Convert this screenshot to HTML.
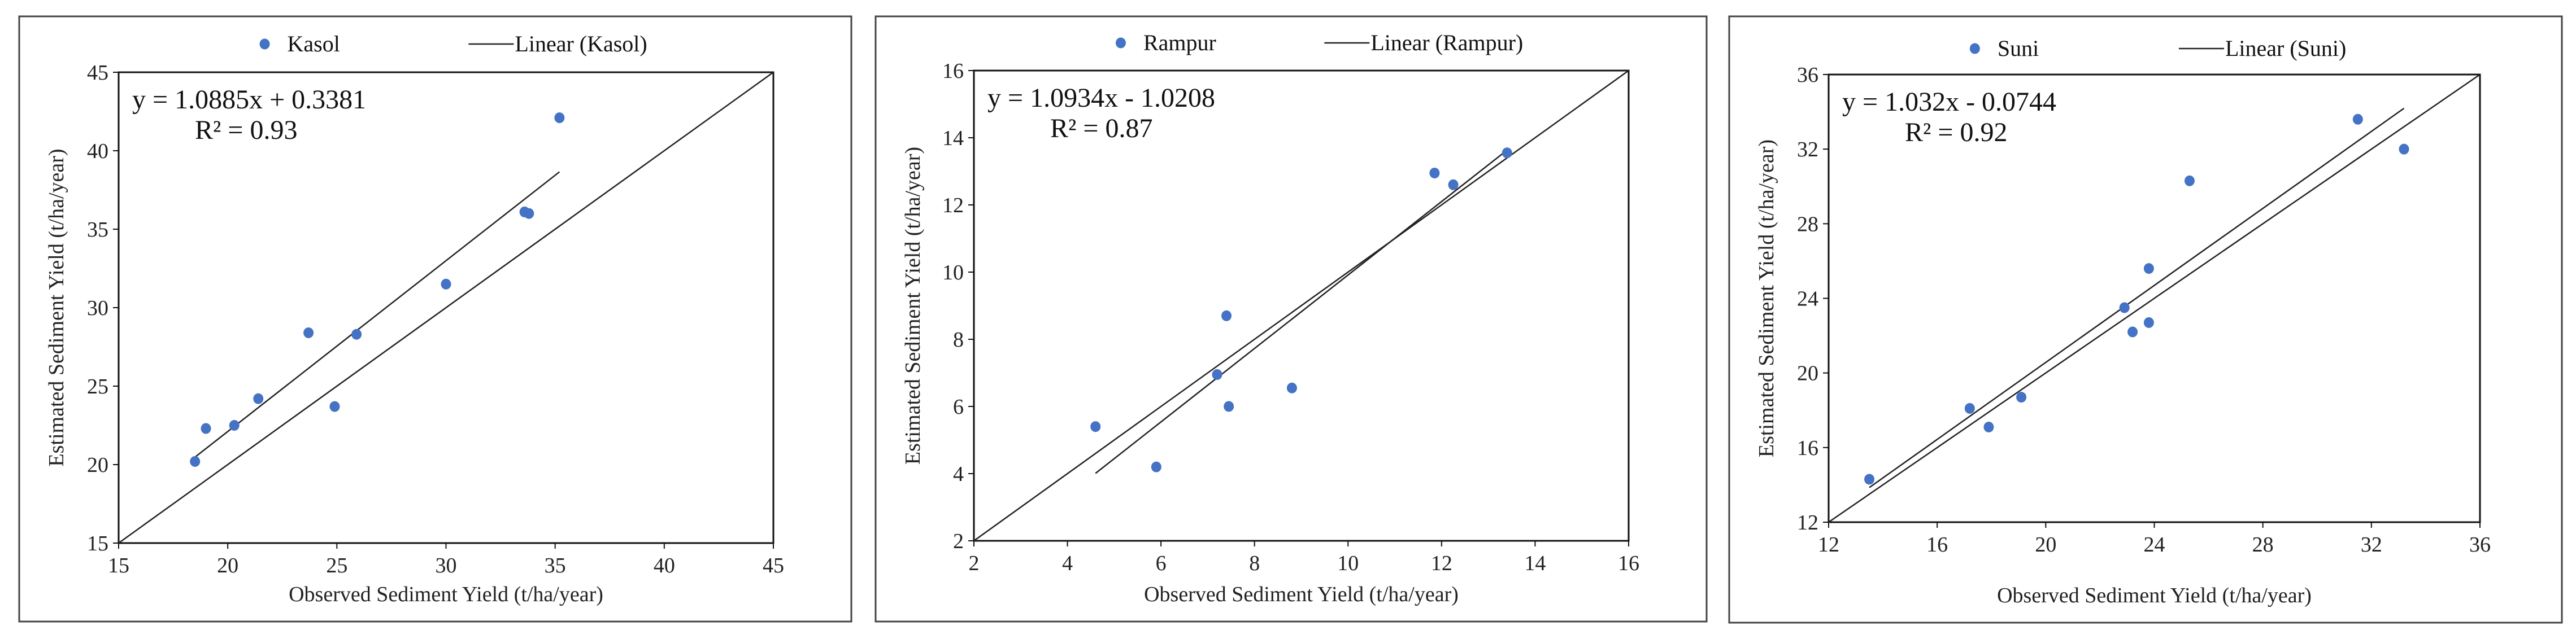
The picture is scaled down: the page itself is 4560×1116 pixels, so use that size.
<!DOCTYPE html>
<html><head><meta charset="utf-8"><style>
html,body{margin:0;padding:0;background:#fff;}
svg{display:block;font-family:"Liberation Serif",serif;}
</style></head><body>
<svg id="chart" width="4560" height="1116" viewBox="0 0 4560 1116" xmlns="http://www.w3.org/2000/svg"></svg>
<script>
const kasolX=[18.5,19,20.3,21.4,23.7,24.9,25.9,30,33.6,33.8,35.2];
const kasolY=[20.2,22.3,22.5,24.2,28.4,23.7,28.3,31.5,36.1,36,42.1];
const rampurX=[4.6,5.9,7.2,7.4,7.45,8.8,11.85,12.25,13.4];
const rampurY=[5.4,4.2,6.95,8.7,6,6.55,12.95,12.6,13.55];
const suniX=[13.5,17.2,17.9,19.1,22.9,23.2,23.8,23.8,25.3,31.5,33.2];
const suniY=[14.3,18.1,17.1,18.7,23.5,22.2,25.6,22.7,30.3,33.6,32];
const kasolTicks=[15,20,25,30,35,40,45];
const rampurTicks=[2,4,6,8,10,12,14,16];
const suniTicks=[12,16,20,24,28,32,36];
const slopes=[1.0885,1.0934,1.032];
const intercepts=[0.3381,-1.0208,-0.0744];
const eqLabels=["y = 1.0885x + 0.3381","y = 1.0934x - 1.0208","y = 1.032x - 0.0744"];
const r2Labels=["R² = 0.93","R² = 0.87","R² = 0.92"];
const names=["Kasol","Rampur","Suni"];

const panels=[
 {fx:34,fy:29,fw:1473,fh:1072,px:210,py:128,pw:1159,ph:834,legY:78,X:kasolX,Y:kasolY,T:kasolTicks},
 {fx:1550,fy:29,fw:1471,fh:1072,px:1724,py:125,pw:1159,ph:833,legY:76,X:rampurX,Y:rampurY,T:rampurTicks},
 {fx:3061,fy:29,fw:1474,fh:1074,px:3237,py:132,pw:1153,ph:793,legY:86,X:suniX,Y:suniY,T:suniTicks}
];
const svg=document.getElementById('chart');
const NS="http://www.w3.org/2000/svg";
function mk(tag,attrs,parent){const e=document.createElementNS(NS,tag);for(const k in attrs)e.setAttribute(k,attrs[k]);(parent||svg).appendChild(e);return e;}
panels.forEach((p,i)=>{
 const g=mk('g',{});
 
 
 const lo=p.T[0],hi=p.T[p.T.length-1];
 const sx=v=>p.px+(v-lo)/(hi-lo)*p.pw;
 const sy=v=>p.py+p.ph-(v-lo)/(hi-lo)*p.ph;
 const fr=mk('rect',{x:p.fx,y:p.fy,width:p.fw,height:p.fh,fill:'none',stroke:'#444','stroke-width':3},g);
 
 const pa=mk('rect',{x:p.px,y:p.py,width:p.pw,height:p.ph,fill:'none',stroke:'#111','stroke-width':3},g);
 
 p.T.forEach(t=>{
  mk('line',{x1:sx(t),x2:sx(t),y1:p.py+p.ph,y2:p.py+p.ph+10,stroke:'#111','stroke-width':2},g);
  const xt=mk('text',{x:sx(t),y:p.py+p.ph+52,'text-anchor':'middle','font-size':38,fill:'#222'},g);
  xt.textContent=t;
  mk('line',{x1:p.px-10,x2:p.px,y1:sy(t),y2:sy(t),stroke:'#111','stroke-width':2},g);
  const yt=mk('text',{x:p.px-18,y:sy(t)+13,'text-anchor':'end','font-size':38,fill:'#222'},g);
  yt.textContent=t;
 });
 // 1:1 line
 const one=mk('line',{x1:sx(lo),y1:sy(lo),x2:sx(hi),y2:sy(hi),stroke:'#222','stroke-width':2.5},g);
 
 // trend
 const xmin=Math.min(...p.X),xmax=Math.max(...p.X);
 const tr=mk('line',{x1:sx(xmin),y1:sy(slopes[i]*xmin+intercepts[i]),x2:sx(xmax),y2:sy(slopes[i]*xmax+intercepts[i]),stroke:'#222','stroke-width':2.5},g);
 
 p.X.forEach((x,j)=>{
  const c=mk('ellipse',{cx:sx(x),cy:sy(p.Y[j]),rx:9,ry:9.5,fill:'#4472C4'},g);
  
 });
 const eq=mk('text',{x:p.px+24,y:p.py+64,'font-size':48,fill:'#111'},g);
 eq.textContent=eqLabels[i];
 const r2=mk('text',{x:p.px+135,y:p.py+118,'font-size':48,fill:'#111'},g);
 r2.textContent=r2Labels[i];
 const xtl=mk('text',{x:p.px+p.pw/2,y:p.fy+p.fh-36,'text-anchor':'middle','font-size':38,fill:'#222'},g);
 xtl.textContent='Observed Sediment  Yield  (t/ha/year)';
 const ytx=p.fx+78,yty=p.py+p.ph/2;
 const ytl=mk('text',{x:ytx,y:yty,'text-anchor':'middle','font-size':38,fill:'#222',transform:`rotate(-90 ${ytx} ${yty})`},g);
 ytl.textContent='Estimated Sediment  Yield  (t/ha/year)';
 // legend
 const lx=p.fx+p.fw*0.295;
 const lg=mk('g',{},g);
 
 mk('ellipse',{cx:lx,cy:p.legY,rx:9,ry:9.5,fill:'#4472C4'},lg);
 const lt=mk('text',{x:lx+40,y:p.legY+13,'font-size':40,fill:'#111'},lg);
 lt.textContent=names[i];
 const l2=p.fx+p.fw*0.54;
 mk('line',{x1:l2,x2:l2+80,y1:p.legY,y2:p.legY,stroke:'#222','stroke-width':2.5},lg);
 const lt2=mk('text',{x:l2+82,y:p.legY+13,'font-size':40,fill:'#111'},lg);
 lt2.textContent='Linear ('+names[i]+')';
});
</script>
</body></html>
